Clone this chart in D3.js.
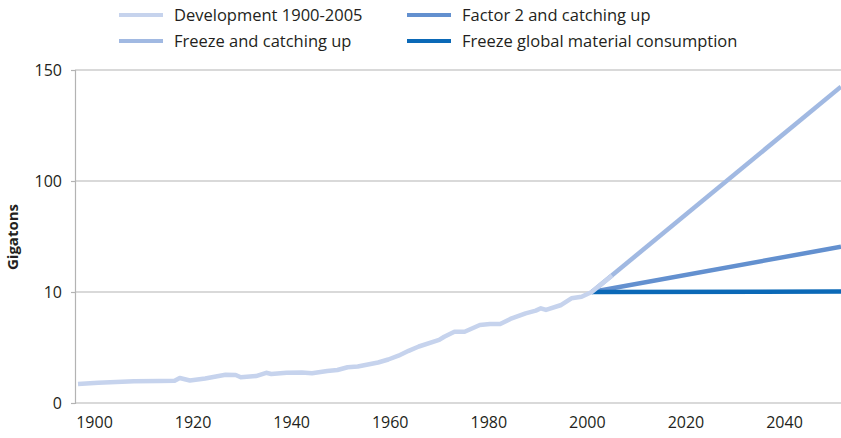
<!DOCTYPE html>
<html>
<head>
<meta charset="utf-8">
<script src="https://d3js.org/d3.v7.min.js"></script>
<style>
    body { margin: 0; background: #fff; }
    svg { display: block; }
    text { font-family: "Open Sans", sans-serif; fill: #231f20; }
</style>
</head>
<body>
<div id="chart"></div>
<script>
// Series data (year, gigatons)
var devYears = [1900, 1904, 1911, 1916, 1919, 1920, 1922, 1925, 1929, 1931, 1932, 1935, 1937, 1938, 1941, 1944, 1946, 1949, 1951, 1953, 1955, 1959, 1961, 1963, 1965, 1967, 1971, 1972, 1974, 1976, 1979, 1981, 1983, 1985, 1988, 1990, 1991, 1992, 1995, 1997, 1999, 2001, 2005];
var devValues = [1.71, 1.83, 1.95, 1.98, 2.01, 2.25, 2.03, 2.21, 2.55, 2.52, 2.32, 2.43, 2.72, 2.61, 2.73, 2.75, 2.68, 2.88, 2.97, 3.22, 3.29, 3.65, 3.92, 4.26, 4.70, 5.09, 5.68, 5.97, 6.42, 6.42, 7.03, 7.12, 7.12, 7.57, 8.08, 8.32, 8.53, 8.38, 8.83, 9.43, 9.57, 10, 23.4];

var scenarioYears = [2001, 2050];
var freezeCatchValues = [10, 142.5];
var factor2Values = [10, 46.7];
var freezeGlobalValues = [10, 10.4];

var seriesNames = ["Development 1900-2005", "Freeze and catching up", "Factor 2 and catching up", "Freeze global material consumption"];
var seriesColors = ["#c6d3ed", "#a1b9e2", "#6390cf", "#0b69b7"];

var yTicks = [0, 10, 100, 150];
var xTickLabels = ["1900", "1920", "1940", "1960", "1980", "2000", "2020", "2040"];

var width = 841, height = 438;
var plotLeft = 75, plotRight = 841, plotTop = 70, plotBottom = 403;

var svg = d3.select("#chart").append("svg").attr("width", width).attr("height", height);

// x for the data, and a separate category scale for the printed year labels
var x = d3.scaleLinear().domain([1900, 2050]).range([78, plotRight]);
var xLabels = d3.scalePoint().domain(xTickLabels).range([94, 784]);

// the y axis of the original is piecewise: 0, 10, 100, 150 equally spaced
var y = d3.scaleLinear().domain(yTicks).range([plotBottom, 292, 181, plotTop]);

// gridlines
svg.append("g").selectAll("line").data(yTicks.slice(1)).enter().append("line")
    .attr("x1", plotLeft).attr("x2", plotRight)
    .attr("y1", function (d) { return y(d); }).attr("y2", function (d) { return y(d); })
    .attr("stroke", "#b3b3b3").attr("stroke-width", 1.2);

// y axis
var yAxis = svg.append("g").attr("transform", "translate(" + plotLeft + ",0)")
    .call(d3.axisLeft(y).tickValues(yTicks).tickSize(4).tickPadding(9).tickFormat(d3.format("d")));
yAxis.select(".domain").attr("stroke", "#b3b3b3").attr("stroke-width", 1.2);
yAxis.selectAll(".tick line").attr("stroke", "#b3b3b3").attr("stroke-width", 1.2);
yAxis.selectAll("text").style("font-size", "16px").attr("fill", "#231f20");

// x baseline
svg.append("line").attr("x1", plotLeft).attr("x2", plotRight).attr("y1", y(0)).attr("y2", y(0))
    .attr("stroke", "#b3b3b3").attr("stroke-width", 1.2);

// x labels
var xAxis = svg.append("g").attr("transform", "translate(0," + plotBottom + ")")
    .call(d3.axisBottom(xLabels).tickSize(0).tickPadding(14));
xAxis.select(".domain").remove();
xAxis.selectAll("text").style("font-size", "16px").attr("fill", "#231f20");

// y title
svg.append("text").attr("transform", "translate(18,237) rotate(-90)")
    .attr("text-anchor", "middle").style("font-size", "15px").style("font-weight", "bold")
    .text("Gigatons");

var line = d3.line()
    .x(function (d) { return x(d[0]); })
    .y(function (d) { return y(d[1]); });

var series = [
    d3.zip(devYears, devValues),
    d3.zip(scenarioYears, freezeCatchValues),
    d3.zip(scenarioYears, factor2Values),
    d3.zip(scenarioYears, freezeGlobalValues)
];

svg.append("clipPath").attr("id", "plot").append("rect")
    .attr("x", plotLeft).attr("y", 0).attr("width", plotRight - plotLeft).attr("height", plotBottom);

// projections first, development line last
var drawOrder = [1, 2, 3, 0];
drawOrder.forEach(function (i) {
    svg.append("path").datum(series[i])
        .attr("clip-path", "url(#plot)")
        .attr("fill", "none")
        .attr("stroke", seriesColors[i])
        .attr("stroke-width", 4.5)
        .attr("stroke-linejoin", "round")
        .attr("d", line);
});

// legend, two columns
var legend = svg.append("g");
var item = legend.selectAll("g").data(seriesNames).enter().append("g")
    .attr("transform", function (d, i) {
        return "translate(" + (i < 2 ? 119 : 407) + "," + (i % 2 === 0 ? 15 : 41) + ")";
    });
item.append("line").attr("x1", 0).attr("x2", 44)
    .attr("stroke", function (d, i) { return seriesColors[i]; })
    .attr("stroke-width", 4);
item.append("text").attr("x", 55).attr("dy", "0.35em")
    .style("font-size", "16.5px")
    .text(function (d) { return d; });
</script>
</body>
</html>
